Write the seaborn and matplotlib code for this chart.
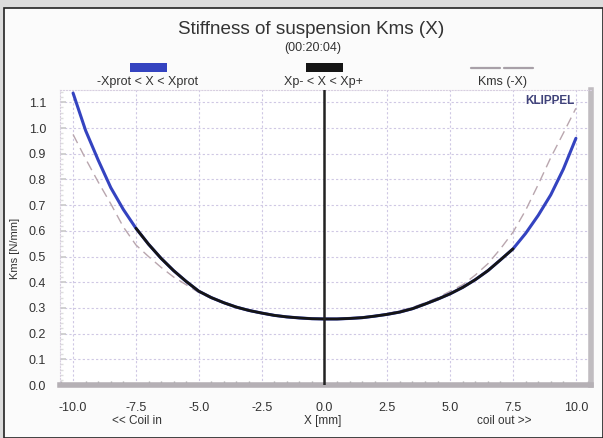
import numpy as np
import pandas as pd
import seaborn as sns
import matplotlib
matplotlib.use("Agg")
import matplotlib.pyplot as plt
from matplotlib.patches import Rectangle
from matplotlib.lines import Line2D
from matplotlib.ticker import MultipleLocator

# ---------------- data ----------------
x_mm = [-10.0, -9.5, -9.0, -8.5, -8.0, -7.5, -7.0, -6.5, -6.0, -5.5, -5.0,
        -4.5, -4.0, -3.5, -3.0, -2.5, -2.0, -1.5, -1.0, -0.5, 0.0,
        0.5, 1.0, 1.5, 2.0, 2.5, 3.0, 3.5, 4.0, 4.5, 5.0,
        5.5, 6.0, 6.5, 7.0, 7.5, 8.0, 8.5, 9.0, 9.5, 10.0]
kms = [1.136, 0.990, 0.875, 0.768, 0.683, 0.610, 0.548, 0.493, 0.445, 0.403, 0.365,
       0.340, 0.320, 0.303, 0.290, 0.280, 0.271, 0.265, 0.261, 0.258, 0.257,
       0.257, 0.259, 0.262, 0.268, 0.275, 0.284, 0.297, 0.315, 0.334, 0.355,
       0.380, 0.410, 0.445, 0.487, 0.530, 0.590, 0.660, 0.740, 0.840, 0.960]
kms_mirror = [0.975, 0.880, 0.790, 0.705, 0.615, 0.545, 0.500, 0.458, 0.420, 0.390, 0.360,
              0.337, 0.318, 0.301, 0.288, 0.278, 0.270, 0.264, 0.260, 0.258, 0.257,
              0.258, 0.260, 0.264, 0.270, 0.278, 0.289, 0.302, 0.320, 0.340, 0.365,
              0.390, 0.428, 0.472, 0.530, 0.595, 0.680, 0.780, 0.885, 0.980, 1.077]
xp_limits = [-7.6, 7.7]

legend_labels = ["-Xprot < X < Xprot", "Xp- < X < Xp+", "Kms (-X)"]
x_ticks = [-10.0, -7.5, -5.0, -2.5, 0.0, 2.5, 5.0, 7.5, 10.0]
y_ticks = [0.0, 0.1, 0.2, 0.3, 0.4, 0.5, 0.6, 0.7, 0.8, 0.9, 1.0, 1.1]

df = pd.DataFrame({"x": x_mm, "kms": kms, "mirror": kms_mirror})
df_xp = df[(df["x"] >= xp_limits[0]) & (df["x"] <= xp_limits[1])]

# ---------------- style ----------------
sns.set_theme(style="white")
plt.rcParams["font.family"] = ["Liberation Sans", "DejaVu Sans"]
TXT = "#333333"
BLUE = "#3443c0"
BLACK = "#151515"
DASH = "#b9a6ae"
GRID = "#cfc8e4"

fig = plt.figure(figsize=(6.03, 4.38), dpi=100, facecolor="#dcdcdc")
W, H = 603, 438
fig.add_artist(Rectangle((4 / W, 0), 1 - 4 / W, 1 - 8 / H, transform=fig.transFigure,
                         facecolor="#fbfbfb", edgecolor="#222222", lw=1.2, zorder=0))

ax = fig.add_axes([60 / W, (H - 385) / H, (591 - 60) / W, (385 - 90) / H])
ax.set_facecolor("white")

sns.lineplot(data=df, x="x", y="mirror", ax=ax, color=DASH, lw=1.0,
             linestyle=(0, (7, 4)), zorder=3)
sns.lineplot(data=df, x="x", y="kms", ax=ax, color=BLUE, lw=2.2, zorder=4)
sns.lineplot(data=df_xp, x="x", y="kms", ax=ax, color=BLACK, lw=2.0, zorder=5)
ax.axvline(0.0, color="#222222", lw=1.8, zorder=6)

ax.set_xlim(-10.52, 10.6)
ax.set_ylim(0, 1.148)
ax.set_xticks(x_ticks)
ax.set_yticks(y_ticks)
ax.xaxis.set_minor_locator(MultipleLocator(0.5))
ax.yaxis.set_minor_locator(MultipleLocator(0.02))
ax.set_xticklabels([f"{v:.1f}" for v in x_ticks], color=TXT, fontsize=9)
ax.set_yticklabels([f"{v:.1f}" for v in y_ticks], color=TXT, fontsize=9)
ax.tick_params(axis="x", which="major", direction="in", length=4, color="#aaaaaa", pad=12)
ax.tick_params(axis="x", which="minor", direction="in", length=3, color="#aaaaaa", bottom=True)
ax.tick_params(axis="y", which="major", direction="in", length=4, color="#cccccc", pad=10, left=True)
ax.tick_params(axis="y", which="minor", direction="in", length=2, color="#dddddd", left=True)
ax.grid(True, which="major", color=GRID, linestyle=(0, (2, 2)), lw=0.8)
ax.set_xlabel("")
ax.set_ylabel("")

for s in ["top", "left"]:
    ax.spines[s].set_color("#d8cfe0")
    ax.spines[s].set_linestyle(":")
    ax.spines[s].set_linewidth(0.8)
ax.spines["bottom"].set_color("#b5b0b5")
ax.spines["bottom"].set_linewidth(4)
ax.spines["right"].set_color("#c0bcc0")
ax.spines["right"].set_linewidth(4)

fig.text(575 / W, 1 - 101 / H, "KLIPPEL", ha="right", va="center",
         color="#40437a", fontsize=8.5, fontweight="bold")

# titles
fig.text(311 / W, 1 - 30 / H, "Stiffness of suspension Kms (X)", ha="center", va="center",
         fontsize=13.6, color=TXT)
fig.text(313 / W, 1 - 48 / H, "(00:20:04)", ha="center", va="center", fontsize=9, color=TXT)

# legend (handle above label)
fig.add_artist(Rectangle((130 / W, 1 - 72 / H), 37 / W, 9 / H, transform=fig.transFigure,
                         facecolor=BLUE, edgecolor="none"))
fig.add_artist(Rectangle((306 / W, 1 - 72 / H), 37 / W, 9 / H, transform=fig.transFigure,
                         facecolor=BLACK, edgecolor="none"))
fig.add_artist(Line2D([471 / W, 500 / W], [1 - 68 / H] * 2, transform=fig.transFigure,
                      color="#a8a0a8", lw=1.6))
fig.add_artist(Line2D([504 / W, 533 / W], [1 - 68 / H] * 2, transform=fig.transFigure,
                      color="#a8a0a8", lw=1.6))
for xc, lab in zip([148, 324, 502], legend_labels):
    fig.text(xc / W, 1 - 82 / H, lab, ha="center", va="center", fontsize=9, color=TXT)

# axis labels
fig.text(15 / W, 1 - 248 / H, "Kms [N/mm]", rotation=90, ha="center", va="center",
         fontsize=8, color=TXT)
fig.text(323 / W, 1 - 421 / H, "X [mm]", ha="center", va="center", fontsize=8.5, color=TXT)
fig.text(137 / W, 1 - 421 / H, "<< Coil in", ha="center", va="center", fontsize=8.5, color=TXT)
fig.text(504 / W, 1 - 421 / H, "coil out >>", ha="center", va="center", fontsize=8.5, color=TXT)

fig.savefig("out.png", dpi=100, facecolor=fig.get_facecolor())
